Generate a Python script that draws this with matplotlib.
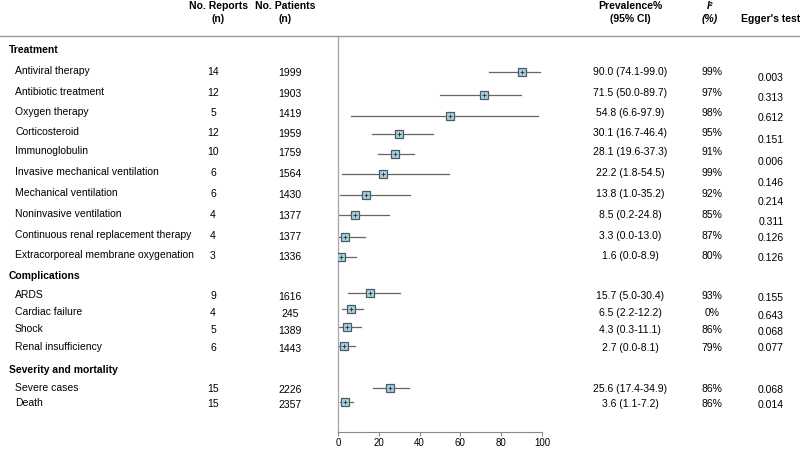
"""Forest plot of treatment, complications and outcome prevalence
"""

import matplotlib
matplotlib.use("Agg")
import matplotlib.pyplot as plt
import matplotlib.transforms as mtransforms

plt.rcParams['font.family'] = ['Liberation Sans', 'DejaVu Sans']

# Data
groups = ["Treatment", "Complications", "Severity and mortality"]
items = ["Antiviral therapy", "Antibiotic treatment", "Oxygen therapy",
         "Corticosteroid", "Immunoglobulin",
         "Invasive mechanical ventilation", "Mechanical ventilation",
         "Noninvasive ventilation", "Continuous renal replacement therapy",
         "Extracorporeal membrane oxygenation",
         "ARDS", "Cardiac failure", "Shock", "Renal insufficiency",
         "Severe cases", "Death"]
n_reports = [14, 12, 5, 12, 10, 6, 6, 4, 4, 3, 9, 4, 5, 6, 15, 15]
n_patients = [1999, 1903, 1419, 1959, 1759, 1564, 1430, 1377, 1377, 1336,
              1616, 245, 1389, 1443, 2226, 2357]
prevalence = [90.0, 71.5, 54.8, 30.1, 28.1, 22.2, 13.8, 8.5, 3.3, 1.6,
              15.7, 6.5, 4.3, 2.7, 25.6, 3.6]
ci_low = [74.1, 50.0, 6.6, 16.7, 19.6, 1.8, 1.0, 0.2, 0.0, 0.0,
          5.0, 2.2, 0.3, 0.0, 17.4, 1.1]
ci_high = [99.0, 89.7, 97.9, 46.4, 37.3, 54.5, 35.2, 24.8, 13.0, 8.9,
           30.4, 12.2, 11.1, 8.1, 34.9, 7.2]
i2 = [99, 97, 98, 95, 91, 99, 92, 85, 87, 80, 93, 0, 86, 79, 86, 86]
egger = ["0.003", "0.313", "0.612", "0.151", "0.006", "0.146", "0.214",
         "0.311", "0.126", "0.126", "0.155", "0.643", "0.068", "0.077",
         "0.068", "0.014"]
x_ticks = [0, 20, 40, 60, 80, 100]

# Layout (pixel rows of the 450 px tall figure)
group_y = [50, 276, 370]
row_y = [72, 93, 113, 133, 152, 173, 194, 215, 236, 256,
         296, 313, 330, 348, 389, 404]
marker_y = [72, 95, 116, 134, 154, 174, 195, 215, 237, 257,
            293, 309, 327, 346, 388, 402]
egger_y = [78, 98, 118, 140, 162, 183, 202, 222, 238, 258,
           298, 316, 332, 348, 390, 405]

W, H = 800, 450
AX_BOTTOM = 432
fig = plt.figure(figsize=(8, 4.5), dpi=100)
ax = fig.add_axes([338 / W, 1 - AX_BOTTOM / H, (542 - 338) / W,
                   (AX_BOTTOM - 36) / H])
ax.set_xlim(0, 100)
ax.set_ylim(AX_BOTTOM, 36)

# Confidence intervals and point estimates
for k in range(len(items)):
    ax.plot([ci_low[k], ci_high[k]], [marker_y[k], marker_y[k]],
            color="#666666", lw=0.9, zorder=2)
ax.plot(prevalence, marker_y, ls="none", marker="s", ms=5.6,
        mfc="#a6d2e2", mec="#4a5a60", mew=0.9, zorder=3)
ax.plot(prevalence, marker_y, ls="none", marker="+", ms=2.5,
        mec="#1f2f33", mew=0.6, zorder=4)

for side in ["top", "right"]:
    ax.spines[side].set_visible(False)
ax.spines["left"].set_color("#aaaaaa")
ax.spines["bottom"].set_color("#888888")
ax.spines["left"].set_linewidth(1.0)
ax.spines["bottom"].set_linewidth(0.8)
ax.set_yticks([])
ax.set_xticks(x_ticks)
ax.tick_params(axis="x", labelsize=7, length=3, width=0.8, color="#888888",
               pad=1.5)
ax.patch.set_visible(False)

# Header line across the whole figure
fig.add_artist(plt.Line2D([0, 1], [1 - 36 / H, 1 - 36 / H],
                          color="#999999", lw=1.0, transform=fig.transFigure))

# Column text
tr = mtransforms.blended_transform_factory(fig.transFigure, ax.transData)
fs = 7.5

def col(x_px, y, s, **kw):
    ax.text(x_px / W, y, s, transform=tr, fontsize=fs, va="center",
            clip_on=False, **kw)

def head(x_px, y_px, s, **kw):
    fig.text(x_px / W, 1 - y_px / H, s, fontsize=fs, va="center",
             ha="center", **kw)

head(218, 6, "No. Reports", weight="bold")
head(218, 19, "(n)", weight="bold")
head(285, 6, "No. Patients", weight="bold")
head(285, 19, "(n)", weight="bold")
head(630, 6, "Prevalence%", weight="bold")
head(630, 19, "(95% CI)", weight="bold")
head(710, 6, "I\u00b2", weight="bold", style="italic")
head(710, 19, "(%)", weight="bold", style="italic")
head(771, 19, "Egger's test", weight="bold")

for g, y in zip(groups, group_y):
    col(9, y, g, weight="bold", ha="left")

for k in range(len(items)):
    y = row_y[k]
    col(15, y - 1, items[k], ha="left")
    col(213, y, str(n_reports[k]), ha="center")
    col(290, y + 1, str(n_patients[k]), ha="center")
    col(630, y, f"{prevalence[k]:.1f} ({ci_low[k]:.1f}-{ci_high[k]:.1f})",
        ha="center")
    col(712, y, f"{i2[k]}%", ha="center")
    col(771, egger_y[k], egger[k], ha="center")

fig.savefig("out.png", dpi=100)
